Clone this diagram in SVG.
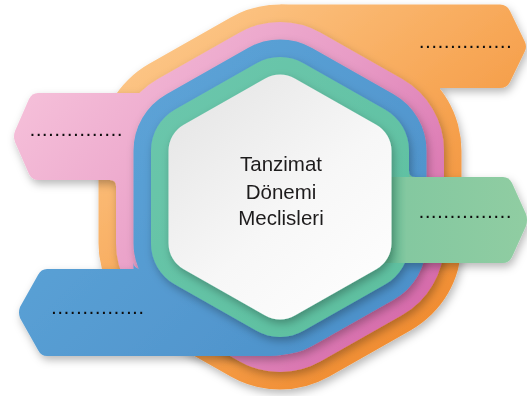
<svg xmlns="http://www.w3.org/2000/svg" xmlns:xlink="http://www.w3.org/1999/xlink" width="527" height="396" viewBox="0 0 527 396">
<defs>
<style>
.hx{stroke-linejoin:round}
.lbl{font-family:"Liberation Sans",Arial,sans-serif;font-size:20.5px;fill:#1f1c1d;text-anchor:middle}
.dots{font-family:"Liberation Sans",Arial,sans-serif;font-size:14px;font-weight:bold;fill:#111111;letter-spacing:2.35px}
</style>
<polygon id="hex" points="280,104.5 361.5,150.75 361.5,243.25 280,289.5 198.5,243.25 198.5,150.75"/>
<linearGradient id="gO" gradientUnits="userSpaceOnUse" x1="150" y1="0" x2="450" y2="390">
<stop offset="0" stop-color="#fdcb8f"/><stop offset="0.5" stop-color="#f7a655"/><stop offset="1" stop-color="#ee8324"/>
</linearGradient>
<linearGradient id="gP" gradientUnits="userSpaceOnUse" x1="30" y1="90" x2="380" y2="380">
<stop offset="0" stop-color="#f5bfd9"/><stop offset="0.5" stop-color="#e89cc6"/><stop offset="1" stop-color="#d567a9"/>
</linearGradient>
<linearGradient id="gB" gradientUnits="userSpaceOnUse" x1="100" y1="40" x2="420" y2="360">
<stop offset="0" stop-color="#5fa6d9"/><stop offset="1" stop-color="#4a8ec8"/>
</linearGradient>
<linearGradient id="gG" gradientUnits="userSpaceOnUse" x1="150" y1="57" x2="410" y2="338">
<stop offset="0" stop-color="#6cc7ad"/><stop offset="1" stop-color="#5cbf9e"/>
</linearGradient>
<linearGradient id="gGt" gradientUnits="userSpaceOnUse" x1="390" y1="0" x2="527" y2="0">
<stop offset="0" stop-color="#5fb791"/><stop offset="0.12" stop-color="#84c8a0"/><stop offset="1" stop-color="#90cda2"/>
</linearGradient>
<linearGradient id="gW" gradientUnits="userSpaceOnUse" x1="170" y1="75" x2="390" y2="320">
<stop offset="0" stop-color="#e3e3e3"/><stop offset="0.55" stop-color="#f7f7f7"/><stop offset="1" stop-color="#ffffff"/>
</linearGradient>
<filter id="sh" filterUnits="userSpaceOnUse" x="0" y="0" width="527" height="396">
<feDropShadow dx="2" dy="4" stdDeviation="4" flood-color="#000" flood-opacity="0.28"/>
</filter>
</defs>
<rect width="527" height="396" fill="#ffffff"/>

<g id="node-orange" filter="url(#sh)" fill="url(#gO)">
<use xlink:href="#hex" href="#hex" class="hx" stroke="url(#gO)" stroke-width="200"/>
<path d="M280 4.5 H500 Q507 4.5 510 11 L525 42 Q527 46.5 525 51 L510 82 Q507 88 500 88 H430 Z"/>
<path d="M432 88 L440 88 L440 96 Q440 88 432 88 Z"/>
<text class="dots" x="419.7" y="48">...............</text>
</g>

<g id="node-pink" filter="url(#sh)" fill="url(#gP)">
<use xlink:href="#hex" href="#hex" class="hx" stroke="url(#gP)" stroke-width="165"/>
<path d="M200 93 H38 Q32 93 29 99 L15 131 Q13 136.5 15 142 L29 174 Q32 180 38 180 H200 Z"/>
<path d="M110 180 L116 180 L116 186 Q116 180 110 180 Z"/>
<text class="dots" x="30.4" y="136">...............</text>
</g>

<g id="node-blue" filter="url(#sh)" fill="url(#gB)">
<use xlink:href="#hex" href="#hex" class="hx" stroke="url(#gB)" stroke-width="130"/>
<path d="M220 269 H47 Q41 269 38 275 L20 307 Q18 312.5 20 318 L38 350 Q41 356 47 356 H270 Q294.5 356 330 335.8 Z"/>
<path d="M133.5 262 L133.5 269 L141 269 Q133.5 269 133.5 262 Z"/>
<text class="dots" x="52" y="314">...............</text>
</g>

<g id="node-green" filter="url(#sh)">
<use xlink:href="#hex" href="#hex" class="hx" fill="url(#gG)" stroke="url(#gG)" stroke-width="95"/>
<path fill="url(#gGt)" d="M350 177 H503 Q509 177 512 183 L526 214 Q528 220 526 226 L512 257 Q509 263 503 263 H350 Z"/>
<path fill="#6cbd96" d="M409 171 L409 177 L415 177 Q409 177 409 171 Z"/>
<text class="dots" x="419.4" y="218">...............</text>
</g>

<g id="node-center" filter="url(#sh)">
<use xlink:href="#hex" href="#hex" class="hx" fill="url(#gW)" stroke="url(#gW)" stroke-width="60"/>
<text class="lbl" x="281" y="171">Tanzimat</text>
<text class="lbl" x="281" y="198.5">Dönemi</text>
<text class="lbl" x="281" y="225">Meclisleri</text>
</g>

<g id="connectors"/>
</svg>
